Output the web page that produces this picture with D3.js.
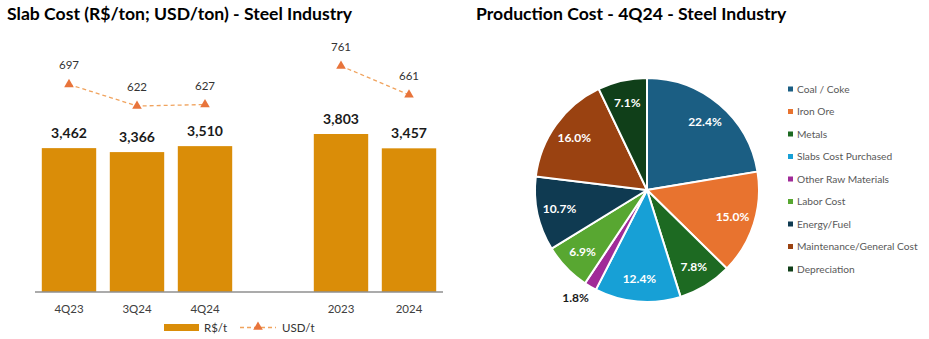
<!DOCTYPE html>
<html>
<head>
<meta charset="utf-8">
<script src="https://cdn.jsdelivr.net/npm/d3@7"></script>
<style>
  body { margin: 0; background: #fff; font-family: Lato, "Open Sans", sans-serif; }
  .title { font-weight: bold; font-size: 17.6px; fill: #000; }
</style>
</head>
<body>
<script>
// bar chart data
var periods = ["4Q23", "3Q24", "4Q24", "", "2023", "2024"];
var brlValues = [3462, 3366, 3510, null, 3803, 3457];
var usdValues = [697, 622, 627, null, 761, 661];

// pie chart data
var costItems = ["Coal / Coke", "Iron Ore", "Metals", "Slabs Cost Purchased", "Other Raw Materials",
    "Labor Cost", "Energy/Fuel", "Maintenance/General Cost", "Depreciation"];
var costShares = [22.4, 15.0, 7.8, 12.4, 1.8, 6.9, 10.7, 16.0, 7.1];
var costColors = ["#1B5E83", "#E8732F", "#1D6A22", "#17A0D6", "#A02B98",
    "#58A731", "#0F3A51", "#9A4211", "#103F19"];

var width = 929, height = 339;

var svg = d3.select("body")
    .append("svg")
    .attr("width", width)
    .attr("height", height);

drawBars();
drawPie();

function drawBars(){
    svg.append("text")
        .attr("class", "title")
        .attr("x", 7)
        .attr("y", 20)
        .text("Slab Cost (R$/ton; USD/ton) - Steel Industry");

    var x = d3.scaleBand()
        .domain(periods.map(function(d, i){ return i; }))
        .range([35, 443])
        .paddingInner(0.2)
        .paddingOuter(0.1);

    var y = d3.scaleLinear()
        .domain([0, 3803])
        .range([291.5, 134]);

    var y2 = d3.scaleLinear()
        .domain([0, 761])
        .range([285, 66]);

    var g = svg.append("g");

    var barData = brlValues.map(function(v, i){ return {i: i, v: v}; })
        .filter(function(d){ return d.v != null; });

    g.selectAll(".bar")
        .data(barData)
        .enter()
        .append("rect")
        .attr("class", "bar")
        .attr("x", function(d){ return x(d.i); })
        .attr("width", x.bandwidth())
        .attr("y", function(d){ return y(d.v); })
        .attr("height", function(d){ return y(0) - y(d.v); })
        .style("fill", "#DA8D08");

    g.selectAll(".barLabel")
        .data(barData)
        .enter()
        .append("text")
        .attr("x", function(d){ return x(d.i) + x.bandwidth() / 2; })
        .attr("y", function(d){ return y(d.v) - 10; })
        .attr("text-anchor", "middle")
        .style("font-size", "14px")
        .style("font-weight", "bold")
        .style("fill", "#1a1a1a")
        .text(function(d){ return d3.format(",")(d.v); });

    //axis line
    g.append("line")
        .attr("x1", 35).attr("x2", 443)
        .attr("y1", y(0) + 0.5).attr("y2", y(0) + 0.5)
        .style("stroke", "#595959")
        .style("stroke-width", 1.2);

    g.selectAll(".catLabel")
        .data(periods)
        .enter()
        .append("text")
        .attr("x", function(d, i){ return x(i) + x.bandwidth() / 2; })
        .attr("y", 313)
        .attr("text-anchor", "middle")
        .style("font-size", "11.5px")
        .style("fill", "#404040")
        .text(function(d){ return d; });

    // usd line, broken at the gap
    var line = d3.line()
        .defined(function(d){ return d.v != null; })
        .x(function(d){ return x(d.i) + x.bandwidth() / 2; })
        .y(function(d){ return y2(d.v); });

    var usdData = usdValues.map(function(v, i){ return {i: i, v: v}; });

    g.append("path")
        .datum(usdData)
        .attr("d", line)
        .style("fill", "none")
        .style("stroke", "#F0A35E")
        .style("stroke-width", 1.3)
        .style("stroke-dasharray", "4,3");

    var tri = d3.symbol().type(d3.symbolTriangle).size(40);
    var pts = usdData.filter(function(d){ return d.v != null; });

    g.selectAll(".marker")
        .data(pts)
        .enter()
        .append("path")
        .attr("d", tri)
        .attr("transform", function(d){
            return "translate(" + (x(d.i) + x.bandwidth() / 2) + "," + y2(d.v) + ")";
        })
        .style("fill", "#E8743B");

    g.selectAll(".usdLabel")
        .data(pts)
        .enter()
        .append("text")
        .attr("x", function(d){ return x(d.i) + x.bandwidth() / 2; })
        .attr("y", function(d){ return y2(d.v) - 15; })
        .attr("text-anchor", "middle")
        .style("font-size", "11.5px")
        .style("fill", "#333")
        .text(function(d){ return d.v; });

    // legend
    var leg = svg.append("g");
    leg.append("rect")
        .attr("x", 164).attr("y", 324)
        .attr("width", 35).attr("height", 7)
        .style("fill", "#DA8D08");
    leg.append("text")
        .attr("x", 204).attr("y", 331.5)
        .style("font-size", "11.5px").style("fill", "#333")
        .text("R$/t");
    leg.append("line")
        .attr("x1", 240).attr("x2", 276)
        .attr("y1", 327.5).attr("y2", 327.5)
        .style("stroke", "#F0A35E")
        .style("stroke-width", 1.3)
        .style("stroke-dasharray", "4,3");
    leg.append("path")
        .attr("d", tri)
        .attr("transform", "translate(258,327)")
        .style("fill", "#E8743B");
    leg.append("text")
        .attr("x", 282).attr("y", 331.5)
        .style("font-size", "11.5px").style("fill", "#333")
        .text("USD/t");
}

function drawPie(){
    svg.append("text")
        .attr("class", "title")
        .attr("x", 476)
        .attr("y", 20)
        .text("Production Cost - 4Q24 - Steel Industry");

    var cx = 647, cy = 190, r = 112;

    var pie = d3.pie().sort(null)
        .value(function(d){ return d; });
    var arcs = pie(costShares);

    var arc = d3.arc().innerRadius(0).outerRadius(r);
    var labelArc = d3.arc().innerRadius(r * 0.8).outerRadius(r * 0.8);
    var outArc = d3.arc().innerRadius(r * 1.12).outerRadius(r * 1.12);

    var g = svg.append("g")
        .attr("transform", "translate(" + cx + "," + cy + ")");

    g.selectAll(".slice")
        .data(arcs)
        .enter()
        .append("path")
        .attr("d", arc)
        .style("fill", function(d, i){ return costColors[i]; })
        .style("stroke", "#fff")
        .style("stroke-width", 2);

    g.selectAll(".pieLabel")
        .data(arcs)
        .enter()
        .append("text")
        .attr("transform", function(d, i){
            if (costShares[i] < 3) {
                // small slice label sits outside
                var c = outArc.centroid(d);
                return "translate(" + (c[0] - 8) + "," + c[1] + ")";
            }
            var p = labelArc.centroid(d);
            return "translate(" + p + ")";
        })
        .attr("text-anchor", "middle")
        .attr("dy", "0.35em")
        .style("font-size", "12px")
        .style("font-weight", "bold")
        .style("fill", function(d, i){ return costShares[i] < 3 ? "#1a1a1a" : "#fff"; })
        .text(function(d){ return d.value.toFixed(1) + "%"; });

    // legend
    var leg = svg.selectAll(".legItem")
        .data(costItems)
        .enter()
        .append("g")
        .attr("transform", function(d, i){ return "translate(788," + (89 + i * 22.5) + ")"; });

    leg.append("rect")
        .attr("x", 0).attr("y", -2.5)
        .attr("width", 5).attr("height", 5)
        .style("fill", function(d, i){ return costColors[i]; });

    leg.append("text")
        .attr("x", 9)
        .attr("dy", "0.35em")
        .style("font-size", "10.2px")
        .style("fill", "#595959")
        .text(function(d){ return d; });
}
</script>
</body>
</html>
